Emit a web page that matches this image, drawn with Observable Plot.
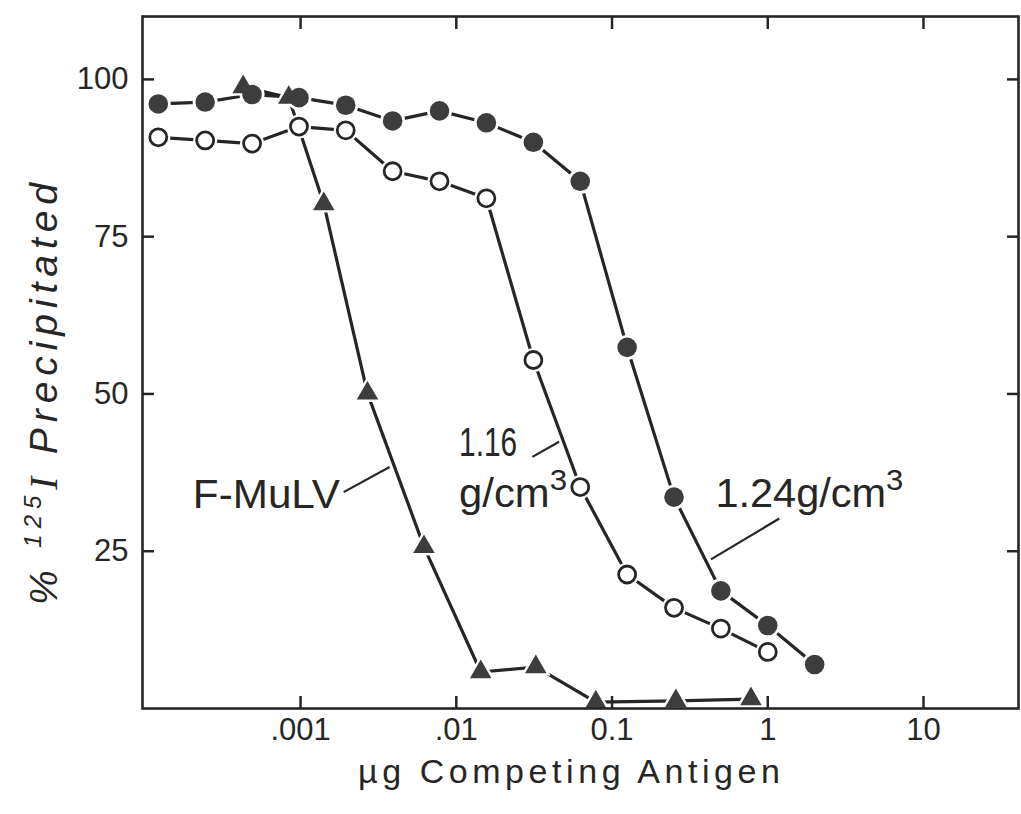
<!DOCTYPE html>
<html><head><meta charset="utf-8">
<script src="https://cdn.jsdelivr.net/npm/d3@7"></script>
<script src="https://cdn.jsdelivr.net/npm/@observablehq/plot@0.6"></script>
<style>html,body{margin:0;padding:0;background:#fff;overflow:hidden}</style>
</head><body><div id="chart"></div>
<script>
// ---- data (µg competing antigen vs % 125I precipitated) ----
const dose124 = [0.000122, 0.000244, 0.000488, 0.000977, 0.00195, 0.0039, 0.0078, 0.0156, 0.03125, 0.0625, 0.125, 0.25, 0.5, 1, 2];
const pct124  = [96.1, 96.4, 97.6, 97.1, 95.9, 93.4, 95.0, 93.1, 90.0, 83.8, 57.4, 33.6, 18.7, 13.2, 7.0];

const dose116 = [0.000122, 0.000244, 0.000488, 0.000977, 0.00195, 0.0039, 0.0078, 0.0156, 0.03125, 0.0625, 0.125, 0.25, 0.5, 1];
const pct116  = [90.8, 90.3, 89.8, 92.5, 91.9, 85.4, 83.8, 81.1, 55.4, 35.2, 21.3, 16.0, 12.7, 9.0];

const doseFMuLV = [0.000428, 0.00084, 0.00141, 0.00269, 0.0062, 0.01435, 0.0324, 0.0787, 0.257, 0.78];
const pctFMuLV  = [98.8, 97.1, 80.2, 50.1, 25.7, 5.8, 6.6, 1.0, 1.2, 1.5];

// ---- axes ----
const xTickValues = [0.001, 0.01, 0.1, 1, 10];
const xTickLabels = [".001", ".01", "0.1", "1", "10"];
const yTickValues = [25, 50, 75, 100];
const xTitle = "\u00b5g Competing Antigen";
const yTitleParts = ["% ", "125", "I", " Precipitated"];

// ---- annotations (in data units) ----
const labelText   = ["F-MuLV", "1.16", "g/cm", "1.24g/cm"];
const labelSup    = ["", "", "3", "3"];
const labelX      = [0.000205, 0.0105, 0.0105, 0.4645];
const labelY      = [31.8, 40.0, 32.0, 32.0];
const leaderX1 = [0.00189, 0.0308, 0.4315];
const leaderY1 = [34.4, 40.0, 23.7];
const leaderX2 = [0.00373, 0.0457, 1.186];
const leaderY2 = [38.4, 42.4, 30.2];

const toRows = (xs, ys) => xs.map((d, i) => ({dose: d, pct: ys[i]}));
const s124 = toRows(dose124, pct124);
const s116 = toRows(dose116, pct116);
const sF = toRows(doseFMuLV, pctFMuLV);
const leaders = leaderX1.map((d, i) => ({x1: d, y1: leaderY1[i], x2: leaderX2[i], y2: leaderY2[i]}));
const xLabelMap = new Map(xTickValues.map((d, i) => [d, xTickLabels[i]]));

const INK = "#262626";
const FONT = "'Liberation Sans', Arial, Helvetica, sans-serif";

const chart = Plot.plot({
  width: 1021,
  height: 814,
  marginLeft: 142,
  marginRight: 3,
  marginTop: 16,
  marginBottom: 106,
  style: {fontFamily: FONT, fontSize: "31px", color: INK, background: "#fff"},
  x: {type: "log", domain: [Math.pow(10, -4.015), Math.pow(10, 1.61)]},
  y: {domain: [0, 110]},
  marks: [
    Plot.line(s124, {x: "dose", y: "pct", stroke: INK, strokeWidth: 3.2}),
    Plot.line(s116, {x: "dose", y: "pct", stroke: INK, strokeWidth: 3.2}),
    Plot.line(sF, {x: "dose", y: "pct", stroke: INK, strokeWidth: 3.2}),
    // white halos leave a small gap between lines and markers
    Plot.dot(s124, {x: "dose", y: "pct", r: 12.5, fill: "#fff"}),
    Plot.dot(s116, {x: "dose", y: "pct", r: 12, fill: "#fff"}),
    Plot.dot(sF, {x: "dose", y: "pct", symbol: "triangle", r: 11, fill: "#fff"}),
    Plot.dot(s116, {x: "dose", y: "pct", r: 8.5, fill: "#fff", stroke: INK, strokeWidth: 2.8}),
    Plot.dot(s124, {x: "dose", y: "pct", r: 9.8, fill: "#3d3d3d"}),
    Plot.dot(sF, {x: "dose", y: "pct", symbol: "triangle", r: 8, fill: "#3d3d3d"}),
    Plot.link(leaders, {x1: "x1", y1: "y1", x2: "x2", y2: "y2", stroke: INK, strokeWidth: 2.2}),
    // inward ticks on all four sides
    Plot.axisX(xTickValues, {anchor: "bottom", tickSize: 12, dy: -12, fill: "none", label: null, stroke: INK, strokeWidth: 2.5}),
    Plot.axisX(xTickValues, {anchor: "top", tickSize: 12, dy: 12, fill: "none", label: null, stroke: INK, strokeWidth: 2.5}),
    Plot.axisY(yTickValues, {anchor: "left", tickSize: 12, dx: 12, fill: "none", label: null, stroke: INK, strokeWidth: 2.5}),
    Plot.axisY(yTickValues, {anchor: "right", tickSize: 12, dx: -12, fill: "none", label: null, stroke: INK, strokeWidth: 2.5}),
    // tick labels
    Plot.axisX(xTickValues, {anchor: "bottom", tickSize: 0, tickPadding: 9, tickFormat: d => xLabelMap.get(d), label: null, fontSize: 31, fill: INK}),
    Plot.axisY(yTickValues, {anchor: "left", tickSize: 0, tickPadding: 14, label: null, fontSize: 31, fill: INK}),
    Plot.frame({stroke: INK, strokeWidth: 2.6})
  ]
});
document.getElementById("chart").append(chart);

const sx = chart.scale("x"), sy = chart.scale("y");
const svg = d3.select(chart);

// series labels
const labelLength = [147, 58, 108, 188];
labelText.forEach((t, i) => {
  const el = svg.append("text")
    .attr("x", sx.apply(labelX[i]))
    .attr("y", sy.apply(labelY[i]))
    .attr("text-anchor", "start")
    .attr("font-family", FONT)
    .attr("font-size", 40)
    .attr("fill", INK)
    .attr("textLength", labelLength[i])
    .attr("lengthAdjust", "spacingAndGlyphs");
  el.append("tspan").text(t);
  if (labelSup[i]) el.append("tspan").attr("font-size", 30).attr("dy", -17).text(labelSup[i]);
});

// x title
svg.append("text")
  .attr("x", 569).attr("y", 783)
  .attr("text-anchor", "middle")
  .attr("font-family", FONT).attr("font-size", 34).attr("fill", INK)
  .attr("textLength", 422).attr("lengthAdjust", "spacing")
  .text(xTitle);

// y title
const yt = svg.append("text")
  .attr("transform", "translate(57,394) rotate(-90)")
  .attr("text-anchor", "middle")
  .attr("font-family", FONT).attr("font-size", 39).attr("font-style", "italic").attr("fill", INK)
  .attr("textLength", 422).attr("lengthAdjust", "spacing");
yt.append("tspan").text(yTitleParts[0]);
yt.append("tspan").attr("font-size", 24).attr("dy", -16).text(yTitleParts[1]);
yt.append("tspan").attr("dy", 16).attr("font-family", "'Liberation Serif', 'DejaVu Serif', serif").text(yTitleParts[2]);
yt.append("tspan").text(yTitleParts[3]);
</script></body></html>
